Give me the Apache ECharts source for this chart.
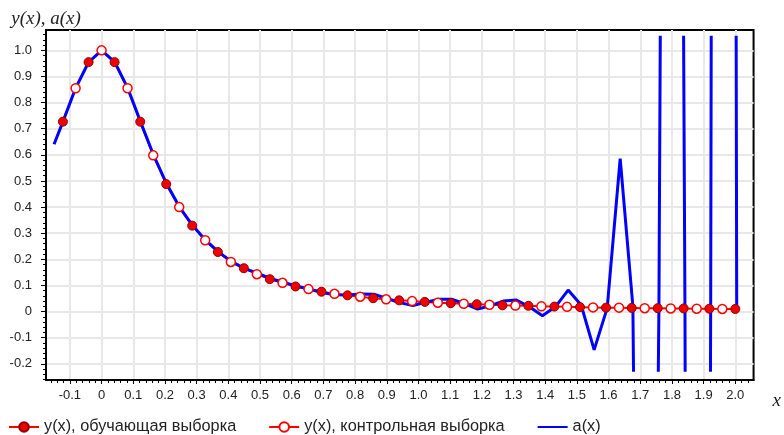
<!DOCTYPE html>
<html>
<head>
<meta charset="utf-8">
<script src="https://cdn.jsdelivr.net/npm/echarts@6/dist/echarts.min.js"></script>
<style>
  html, body { margin: 0; padding: 0; background: #fff; }
  #chart { width: 784px; height: 435px; }
</style>
</head>
<body>
<div id="chart"></div>
<script>
// ---- data ----
const trainX = [-0.122, -0.041, 0.041, 0.122, 0.204, 0.286, 0.367, 0.449, 0.531, 0.612, 0.694, 0.776, 0.857, 0.939, 1.020, 1.102, 1.184, 1.265, 1.347, 1.429, 1.510, 1.592, 1.673, 1.755, 1.837, 1.918, 2.000];
const trainY = [0.727, 0.955, 0.955, 0.727, 0.488, 0.329, 0.228, 0.166, 0.124, 0.096, 0.076, 0.062, 0.051, 0.043, 0.037, 0.032, 0.028, 0.024, 0.022, 0.019, 0.017, 0.015, 0.014, 0.013, 0.012, 0.011, 0.010];

const controlX = [-0.082, 0.000, 0.082, 0.163, 0.245, 0.327, 0.408, 0.490, 0.571, 0.653, 0.735, 0.816, 0.898, 0.980, 1.061, 1.143, 1.224, 1.306, 1.388, 1.469, 1.551, 1.633, 1.714, 1.796, 1.878, 1.959];
const controlY = [0.855, 1.000, 0.855, 0.598, 0.400, 0.273, 0.190, 0.143, 0.110, 0.086, 0.068, 0.057, 0.047, 0.040, 0.034, 0.030, 0.026, 0.023, 0.020, 0.018, 0.016, 0.015, 0.013, 0.012, 0.011, 0.010];

const approxX = [-0.150, -0.122, -0.082, -0.041, 0.000, 0.041, 0.082, 0.122, 0.163, 0.204, 0.245, 0.286, 0.327, 0.367, 0.408, 0.449, 0.490, 0.531, 0.571, 0.612, 0.653, 0.694, 0.735, 0.776, 0.816, 0.857, 0.898, 0.939, 0.980, 1.020, 1.061, 1.102, 1.143, 1.184, 1.224, 1.265, 1.306, 1.347, 1.388, 1.429, 1.469, 1.510, 1.551, 1.592, 1.633, 1.673, 1.714, 1.755, 1.796, 1.837, 1.878, 1.918, 1.959, 2.000];
const approxY = [0.640, 0.727, 0.855, 0.955, 1.000, 0.955, 0.855, 0.727, 0.600, 0.490, 0.400, 0.330, 0.273, 0.229, 0.192, 0.165, 0.147, 0.127, 0.112, 0.098, 0.086, 0.073, 0.064, 0.063, 0.067, 0.066, 0.050, 0.034, 0.023, 0.035, 0.047, 0.047, 0.030, 0.009, 0.022, 0.040, 0.044, 0.018, -0.016, 0.018, 0.082, 0.025, -0.147, 0.013, 0.585, 0.020, -5, 0.010, 10, 0.010, -16, 0.010, 25, 0.010];

const xTickValues = [-0.1, 0, 0.1, 0.2, 0.3, 0.4, 0.5, 0.6, 0.7, 0.8, 0.9, 1.0, 1.1, 1.2, 1.3, 1.4, 1.5, 1.6, 1.7, 1.8, 1.9, 2.0];
const yTickValues = [-0.2, -0.1, 0, 0.1, 0.2, 0.3, 0.4, 0.5, 0.6, 0.7, 0.8, 0.9, 1.0];

const seriesNames = ['y(x), обучающая выборка', 'y(x), контрольная выборка', 'a(x)'];
const xName = 'x';
const yName = 'y(x), a(x)';

// ---- helpers ----
function zip(xs, ys) { return xs.map((x, i) => [x, ys[i]]); }
function minorTicks(from, to, step) {
  const out = [];
  const n = Math.round((to - from) / step);
  for (let k = 0; k <= n; k++) out.push(Math.round((from + k * step) * 1000) / 1000);
  return out;
}
const fmt = v => (Math.abs(v) < 1e-9 ? '0' : v.toFixed(1));

// the red curve y(x) passes through both samples in order of x
const allY = zip(trainX, trainY).concat(zip(controlX, controlY)).sort((a, b) => a[0] - b[0]);

const X_MIN = -0.1754, X_MAX = 2.0576;
const Y_MIN = -0.262, Y_MAX = 1.078;

const labelFont = { fontFamily: 'Liberation Sans, Arial, sans-serif', fontSize: 13, color: '#222' };
const nameFont = { fontFamily: 'Liberation Serif, DejaVu Serif, serif', fontStyle: 'italic', fontSize: 19, color: '#222' };

const chart = echarts.init(document.getElementById('chart'));
chart.setOption({
  animation: false,
  backgroundColor: '#fff',
  grid: [
    { left: 46, right: 29, top: 30, bottom: 55, show: true, borderColor: '#000', borderWidth: 2, containLabel: false },
    { left: 46, right: 29, top: 37.2, bottom: 64.8, show: false, containLabel: false }
  ],
  legend: {
    left: 8, top: 419, padding: 0,
    itemWidth: 30, itemHeight: 12, itemGap: 32,
    lineStyle: { opacity: 1 },
    textStyle: { fontFamily: 'Liberation Sans, Arial, sans-serif', fontSize: 16.3, color: '#222' },
    data: [
      { name: seriesNames[0] },
      { name: seriesNames[1] },
      { name: seriesNames[2], itemStyle: { opacity: 0 } }
    ]
  },
  xAxis: [
    {
      type: 'value', gridIndex: 0, min: X_MIN, max: X_MAX, position: 'bottom',
      name: xName, nameLocation: 'end', nameGap: 19,
      nameTextStyle: Object.assign({}, nameFont, { verticalAlign: 'top', padding: [11, 0, 0, 0] }),
      axisLine: { show: true, onZero: false, lineStyle: { color: '#000', width: 2 } },
      axisTick: { show: true, inside: false, length: 4, customValues: xTickValues, lineStyle: { color: '#000', width: 1 } },
      axisLabel: Object.assign({ show: true, margin: 9, customValues: xTickValues, formatter: fmt }, labelFont),
      splitLine: { show: true, lineStyle: { color: '#e8e8e8', width: 2 } }
    },
    {
      type: 'value', gridIndex: 0, min: X_MIN, max: X_MAX, position: 'bottom',
      axisLine: { show: false, onZero: false },
      axisTick: { show: true, inside: false, length: 3, customValues: minorTicks(-0.16, 2.04, 0.02), lineStyle: { color: '#000', width: 1 } },
      axisLabel: { show: false },
      splitLine: { show: false }
    },
    { type: 'value', gridIndex: 1, min: X_MIN, max: X_MAX, show: false }
  ],
  yAxis: [
    {
      type: 'value', gridIndex: 0, min: Y_MIN, max: Y_MAX, position: 'left',
      name: yName, nameLocation: 'end', nameGap: 2, nameTextStyle: nameFont,
      axisLine: { show: true, onZero: false, lineStyle: { color: '#000', width: 2 } },
      axisTick: { show: true, inside: false, length: 5, customValues: yTickValues, lineStyle: { color: '#000', width: 1 } },
      axisLabel: Object.assign({ show: true, margin: 14, customValues: yTickValues, formatter: fmt }, labelFont),
      splitLine: { show: true, lineStyle: { color: '#e8e8e8', width: 2 } }
    },
    {
      type: 'value', gridIndex: 0, min: Y_MIN, max: Y_MAX, position: 'left',
      axisLine: { show: false, onZero: false },
      axisTick: { show: true, inside: false, length: 3, customValues: minorTicks(-0.26, 1.06, 0.02), lineStyle: { color: '#000', width: 1 } },
      axisLabel: { show: false },
      splitLine: { show: false }
    },
    { type: 'value', gridIndex: 1, min: -0.2246, max: 1.05, show: false }
  ],
  series: [
    {
      name: 'y(x)', type: 'line', xAxisIndex: 0, yAxisIndex: 0,
      data: allY, symbol: 'none',
      lineStyle: { color: '#ff0000', width: 2 }, itemStyle: { color: '#ff0000' }, z: 2
    },
    {
      name: seriesNames[2], type: 'line', xAxisIndex: 2, yAxisIndex: 2,
      data: zip(approxX, approxY), symbol: 'none', clip: true,
      lineStyle: { color: '#0000ff', width: 3 }, itemStyle: { color: '#0000ff' }, z: 3
    },
    {
      name: seriesNames[0], type: 'line', xAxisIndex: 0, yAxisIndex: 0,
      data: zip(trainX, trainY), symbol: 'circle', symbolSize: 9, showSymbol: true,
      lineStyle: { color: '#ff0000', width: 2, opacity: 0 },
      itemStyle: { color: '#ee0000', borderColor: '#900000', borderWidth: 1 }, z: 4
    },
    {
      name: seriesNames[1], type: 'line', xAxisIndex: 0, yAxisIndex: 0,
      data: zip(controlX, controlY), symbol: 'circle', symbolSize: 9, showSymbol: true,
      lineStyle: { color: '#ff0000', width: 2, opacity: 0 },
      itemStyle: { color: '#ffffff', borderColor: '#ff0000', borderWidth: 1.5 }, z: 4
    }
  ]
});
</script>
</body>
</html>
